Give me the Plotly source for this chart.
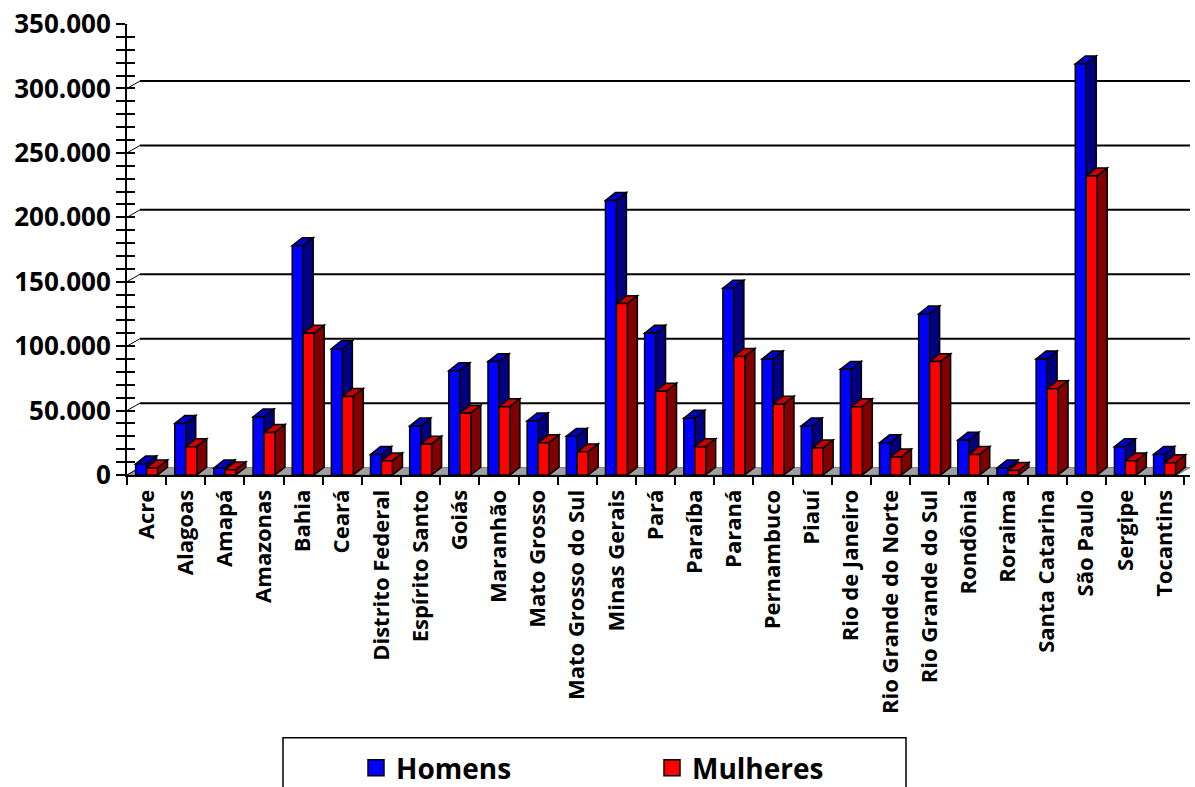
import plotly.graph_objects as go

estados = ["Acre", "Alagoas", "Amapá", "Amazonas", "Bahia", "Ceará", "Distrito Federal",
           "Espírito Santo", "Goiás", "Maranhão", "Mato Grosso", "Mato Grosso do Sul",
           "Minas Gerais", "Pará", "Paraíba", "Paraná", "Pernambuco", "Piauí",
           "Rio de Janeiro", "Rio Grande do Norte", "Rio Grande do Sul", "Rondônia",
           "Roraima", "Santa Catarina", "São Paulo", "Sergipe", "Tocantins"]
homens = [8500, 40000, 5500, 45000, 178000, 98000, 16000, 38000, 81000, 88000, 42000, 30000,
          213000, 110000, 44000, 145000, 90000, 38000, 82000, 25000, 125000, 27000, 5400,
          90000, 319000, 22000, 16000]
mulheres = [5500, 22000, 4000, 33000, 110000, 61000, 11000, 24000, 48000, 53000, 25000, 18000,
            133000, 65000, 22000, 92000, 55000, 21000, 53000, 14000, 88000, 16000, 3500,
            67000, 232000, 11000, 9500]
y_ticks = [0, 50000, 100000, 150000, 200000, 250000, 300000, 350000]

# geometry (pixel-derived)
W, H = 1195, 787
L, R, T, B = 127, 5, 20, 312
XMIN, XMAX = -0.5, 26.65
YMAX = 350000
pw, ph = W - L - R, H - T - B
pxx = (XMAX - XMIN) / pw      # data units per px (x)
pxy = YMAX / ph               # data units per px (y)
BW = 0.28
bdx, bdy = 10 * pxx, 8 * pxy      # bar depth
wdx, wdy = 13 * pxx, 7.5 * pxy    # wall depth

x = list(range(len(estados)))

fig = go.Figure()
fig.add_trace(go.Bar(x=x, y=homens, name="Homens", width=BW, offset=-BW, showlegend=False,
                     legendgroup="h",
                     marker=dict(color="#0000FF", line=dict(color="black", width=1.5))))
fig.add_trace(go.Bar(x=x, y=mulheres, name="Mulheres", width=BW, offset=0, showlegend=False,
                     legendgroup="m",
                     marker=dict(color="#FF0000", line=dict(color="black", width=1.5))))
# legend keys with larger square symbols
fig.add_trace(go.Scatter(x=[None], y=[None], mode="markers", name="Homens", legendgroup="h",
                         marker=dict(symbol="square", size=20, color="#0000FF",
                                     line=dict(color="black", width=1.5))))
fig.add_trace(go.Scatter(x=[None], y=[None], mode="markers", name="Mulheres", legendgroup="m",
                         marker=dict(symbol="square", size=20, color="#FF0000",
                                     line=dict(color="black", width=1.5))))
fig.add_trace(go.Scatter(x=[], y=[], yaxis="y2", showlegend=False))

shapes = []
# floor
shapes.append(dict(type="path", xref="x", yref="y", layer="below",
                   path=f"M{XMIN},0 L{XMAX - wdx},0 L{XMAX},{wdy} L{XMIN + wdx},{wdy} Z",
                   fillcolor="#a0a0a0", line=dict(color="#808080", width=1)))
# gridlines on back wall + connectors
for t in y_ticks[1:]:
    col = "#d8d8d8" if t == YMAX else "black"
    wid = 1 if t == YMAX else 2
    shapes.append(dict(type="line", xref="x", yref="y", layer="below",
                       x0=XMIN + wdx, x1=XMAX, y0=t + wdy, y1=t + wdy,
                       line=dict(color=col, width=wid)))
for t in y_ticks:
    shapes.append(dict(type="line", xref="x", yref="y", layer="below",
                       x0=XMIN, x1=XMIN + wdx, y0=t, y1=t + wdy,
                       line=dict(color="black", width=1)))

def faces(x0, x1, v, top, side):
    out = []
    out.append(dict(type="path", xref="x", yref="y", layer="between",
                    path=f"M{x0},{v} L{x1},{v} L{x1 + bdx},{v + bdy} L{x0 + bdx},{v + bdy} Z",
                    fillcolor=top, line=dict(color="black", width=1.5)))
    out.append(dict(type="path", xref="x", yref="y", layer="between",
                    path=f"M{x1},0 L{x1 + bdx},{bdy} L{x1 + bdx},{v + bdy} L{x1},{v} Z",
                    fillcolor=side, line=dict(color="black", width=1.5)))
    return out

for i, (h, m) in enumerate(zip(homens, mulheres)):
    shapes += faces(i - BW, i, h, "#0000C8", "#000080")
    shapes += faces(i, i + BW, m, "#C80000", "#800000")

# legend box (paper coords from pixel positions)
def px2paper_x(p):
    return (p - L) / pw

def px2paper_y(p):
    return (H - B - p) / ph

shapes.append(dict(type="rect", xref="paper", yref="paper",
                   x0=px2paper_x(283), x1=px2paper_x(906),
                   y0=px2paper_y(800), y1=px2paper_y(740),
                   line=dict(color="black", width=1.5), fillcolor="rgba(0,0,0,0)"))

font_family = "Open Sans"
fig.update_layout(
    width=W, height=H,
    margin=dict(l=L, r=R, t=T, b=B),
    paper_bgcolor="white", plot_bgcolor="white",
    separators=",.",
    barmode="group",
    shapes=shapes,
    font=dict(family=font_family, color="black"),
    xaxis=dict(range=[XMIN, XMAX], tickvals=x, ticktext=estados, tickangle=-90,
               ticks="", showgrid=False, zeroline=False,
               showline=True, linecolor="black", linewidth=2,
               tickfont=dict(family=font_family, size=22, weight="bold", color="black"),
               ticklabelstandoff=4,
               minor=dict(tickvals=[i - 0.5 for i in range(len(estados) + 1)],
                          ticks="outside", ticklen=8, tickwidth=2, tickcolor="black",
                          showgrid=False)),
    yaxis=dict(range=[0, YMAX], tickvals=y_ticks, tickformat=",.0f",
               ticks="outside", ticklen=9, tickwidth=2, tickcolor="black",
               showgrid=False, zeroline=False,
               showline=True, linecolor="black", linewidth=2,
               tickfont=dict(family=font_family, size=26, weight="bold", color="black"),
               minor=dict(dtick=10000, ticks="outside", ticklen=9, tickwidth=2,
                          tickcolor="black", showgrid=False)),
    yaxis2=dict(range=[0, YMAX], overlaying="y", side="left", showticklabels=False,
                tickvals=y_ticks, ticks="inside", ticklen=8, tickwidth=2, tickcolor="black",
                showgrid=False, zeroline=False, showline=False,
                minor=dict(dtick=10000, ticks="inside", ticklen=8, tickwidth=2,
                           tickcolor="black", showgrid=False)),
    showlegend=True,
    legend=dict(orientation="h", xref="container", yref="container",
                x=356 / W, y=1 - 768 / H, xanchor="left", yanchor="middle",
                entrywidth=251, entrywidthmode="pixels",
                bgcolor="rgba(0,0,0,0)", borderwidth=0,
                font=dict(family=font_family, size=28, weight="bold", color="black")),
)

fig.write_html("out.html")
